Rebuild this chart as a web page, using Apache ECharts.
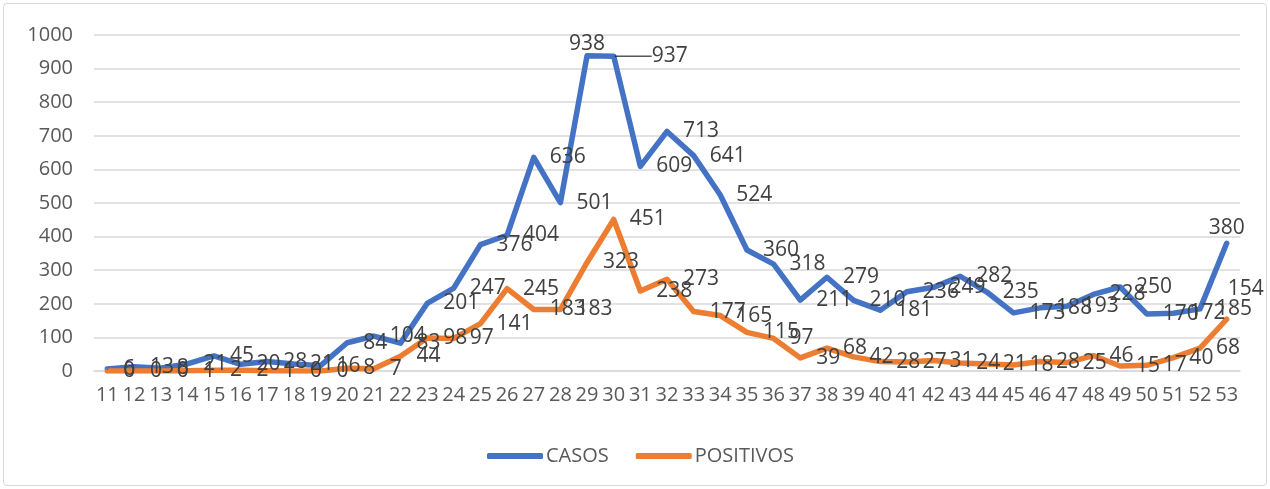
<!doctype html>
<html>
<head>
<meta charset="utf-8">
<title>CASOS / POSITIVOS</title>
<script src="https://cdn.jsdelivr.net/npm/echarts@6/dist/echarts.min.js"></script>
<style>
    html, body { margin: 0; padding: 0; background: #fff; }
    #box { position: absolute; left: 3px; top: 3px; width: 1262px; height: 481px; border: 1px solid #d9d9d9; border-radius: 4px; }
    #container { width: 1270px; height: 489px; }
</style>
</head>
<body>
<div id="box"></div>
<div id="container"></div>
<script type="text/javascript">
    // semanas 11..53
    var semanas = ['11','12','13','14','15','16','17','18','19','20','21','22','23','24','25','26','27','28','29','30','31','32',
        '33','34','35','36','37','38','39','40','41','42','43','44','45','46','47','48','49','50','51','52','53'];

    var casos = [6, 13, 8, 21, 45, 20, 28, 21, 16, 84, 104, 83, 201, 247, 376, 404, 636, 501, 938, 937, 609, 713,
        641, 524, 360, 318, 211, 279, 210, 181, 236, 249, 282, 235, 173, 188, 193, 228, 250, 170, 172, 185, 380];

    var positivos = [0, 0, 0, 1, 2, 2, 1, 0, 0, 8, 7, 44, 98, 97, 141, 245, 183, 183, 323, 451, 238, 273,
        177, 165, 115, 97, 39, 68, 42, 28, 27, 31, 24, 21, 18, 28, 25, 46, 15, 17, 40, 68, 154];

    var yTicks = { min: 0, max: 1000, step: 100 };

    var myChart = echarts.init(document.getElementById('container'));

    var etiqueta = {
        show: true,
        position: 'right',
        distance: 15,
        color: '#404040',
        fontFamily: 'Open Sans',
        fontSize: 21
    };

    var ultima = semanas.length - 1;

    // etiquetas movidas a mano como en el original
    var casosData = casos.map(function (v, i) {
        if (semanas[i] === '29') return { value: v, label: { position: 'top', distance: 0, offset: [3, 0] } };
        if (semanas[i] === '30') return { value: v, labelLine: { show: true, lineStyle: { color: '#000', width: 1 } } };
        if (i === ultima) return { value: v, label: { position: 'top', distance: 4, offset: [6, 0] } };
        return v;
    });
    var positivosData = positivos.map(function (v, i) {
        if (i === ultima) return { value: v, label: { position: 'right', distance: 0, offset: [0, -30] } };
        return v;
    });

    var option = {
        animation: false,
        textStyle: { fontFamily: 'Open Sans' },
        grid: { left: 94, right: 30, top: 35, bottom: 118 },
        legend: {
            top: 441,
            left: 482,
            itemWidth: 56,
            itemHeight: 6,
            itemGap: 27,
            icon: 'roundRect',
            textStyle: { color: '#595959', fontSize: 20, fontFamily: 'Open Sans', padding: [0, 0, 0, -2] },
            data: ['CASOS', 'POSITIVOS']
        },
        xAxis: {
            type: 'category',
            data: semanas,
            boundaryGap: true,
            axisLine: { lineStyle: { color: '#d9d9d9', width: 1.5 } },
            axisTick: { show: false },
            axisLabel: { interval: 0, color: '#595959', fontSize: 20, margin: 14 }
        },
        yAxis: {
            type: 'value',
            min: yTicks.min,
            max: yTicks.max,
            interval: yTicks.step,
            axisLine: { show: false },
            axisTick: { show: false },
            axisLabel: {
                color: '#595959', fontSize: 20, margin: 21,
                formatter: function (v) { return String(v); }
            },
            splitLine: { lineStyle: { color: '#d9d9d9', width: 1.5 } }
        },
        series: [
            {
                name: 'CASOS',
                type: 'line',
                data: casosData,
                symbol: 'circle',
                symbolSize: 2,
                itemStyle: { color: '#4472C4' },
                lineStyle: { color: '#4472C4', width: 5.5, cap: 'round', join: 'round' },
                label: etiqueta,
                labelLine: { show: false },
                labelLayout: function (p) {
                    // 937 separado con línea guía
                    if (p.dataIndex === 19) return { dx: 22 };
                    return {};
                }
            },
            {
                name: 'POSITIVOS',
                type: 'line',
                data: positivosData,
                symbol: 'circle',
                symbolSize: 2,
                itemStyle: { color: '#ED7D31' },
                lineStyle: { color: '#ED7D31', width: 5.5, cap: 'round', join: 'round' },
                label: etiqueta
            }
        ]
    };

    myChart.setOption(option);
</script>
</body>
</html>
